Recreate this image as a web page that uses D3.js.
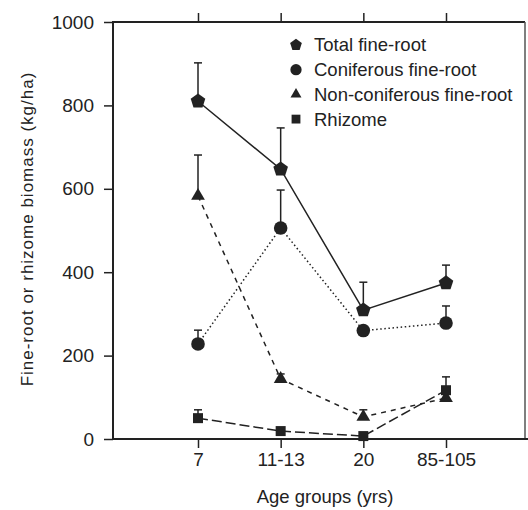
<!DOCTYPE html>
<html>
<head>
<meta charset="utf-8">
<script src="https://cdn.jsdelivr.net/npm/d3@7"></script>
<style>
  body { margin: 0; background: #fff; }
  svg { display: block; font-family: "Liberation Sans", Arial, sans-serif; }
</style>
</head>
<body>
<div id="chart"></div>
<script>
const ageGroups = ["7", "11-13", "20", "85-105"];

// means and upper error (SE); null = no bar visible
const totalFine = [810, 647, 309, 374];
const totalErr = [92, 99, 67, 43];
const coniferous = [228, 506, 260, 278];
const coniferousErr = [33, 91, null, 41];
const nonConiferous = [583, 144, 53, 98];
const nonConiferousErr = [98, 12, 17, null];
const rhizome = [50, 19, 7, 117];
const rhizomeErr = [20, null, null, 32];

const yTicks = [0, 200, 400, 600, 800, 1000];

const pentagon = {
  draw(context, size) {
    const r = Math.sqrt(size / 2.378);
    for (let i = 0; i < 5; i++) {
      const a = -Math.PI / 2 + i * 2 * Math.PI / 5;
      const x = r * Math.cos(a);
      const y = r * Math.sin(a);
      if (i === 0) { context.moveTo(x, y); } else { context.lineTo(x, y); }
    }
    context.closePath();
  }
};

const series = [
  {name: "Total fine-root", values: totalFine, err: totalErr, symbol: pentagon, size: 140, legendSize: 90, dash: null},
  {name: "Coniferous fine-root", values: coniferous, err: coniferousErr, symbol: d3.symbolCircle, size: 145, legendSize: 100, dash: "1.5,2.6"},
  {name: "Non-coniferous fine-root", values: nonConiferous, err: nonConiferousErr, symbol: d3.symbolTriangle, size: 82, legendSize: 52, dash: "5,5"},
  {name: "Rhizome", values: rhizome, err: rhizomeErr, symbol: d3.symbolSquare, size: 100, legendSize: 78, dash: "10,4"}
];

const width = 528;
const height = 510;
const ink = "#222";

const x = d3.scalePoint().domain(ageGroups).range([198, 446]);
const y = d3.scaleLinear().domain([0, 1000]).range([439, 22]);

const svg = d3.select("#chart").append("svg")
  .attr("width", width)
  .attr("height", height);

// frame: right side and top
svg.append("line")
  .attr("x1", 113).attr("x2", 525)
  .attr("y1", y(1000)).attr("y2", y(1000))
  .attr("stroke", ink).attr("stroke-width", 2);
svg.append("line")
  .attr("x1", 525).attr("x2", 525)
  .attr("y1", y(1000)).attr("y2", y(0))
  .attr("stroke", "#555").attr("stroke-width", 1.5);

const yAxis = svg.append("g")
  .attr("transform", "translate(113,0)")
  .call(d3.axisLeft(y).tickValues(yTicks).tickFormat(d3.format("d"))
    .tickSize(9).tickPadding(10).tickSizeOuter(0));

const xAxis = svg.append("g")
  .attr("transform", `translate(0,${y(0)})`)
  .call(d3.axisBottom(x).tickSize(9).tickPadding(5).tickSizeOuter(0));

const topAxis = svg.append("g")
  .attr("transform", `translate(0,${y(1000)})`)
  .call(d3.axisTop(x).tickSize(9).tickSizeOuter(0).tickFormat(""));

[yAxis, xAxis, topAxis].forEach((g) => {
  g.select(".domain").remove();
  g.selectAll("line").attr("stroke", ink).attr("stroke-width", 1.5);
  g.selectAll("text")
    .attr("fill", ink)
    .style("font-size", "19px")
    .style("font-family", "\"Liberation Sans\", Arial, sans-serif");
});

// axis lines
svg.append("line")
  .attr("x1", 113).attr("x2", 113)
  .attr("y1", y(1000) - 1).attr("y2", y(0) + 1)
  .attr("stroke", ink).attr("stroke-width", 2);
svg.append("line")
  .attr("x1", 113).attr("x2", width)
  .attr("y1", y(0)).attr("y2", y(0))
  .attr("stroke", ink).attr("stroke-width", 2);

// axis titles
svg.append("text")
  .attr("transform", "translate(33,229) rotate(-90)")
  .attr("text-anchor", "middle")
  .attr("fill", ink)
  .style("font-size", "17px")
  .style("letter-spacing", "1px")
  .text("Fine-root or rhizome biomass (kg/ha)");

svg.append("text")
  .attr("x", 325)
  .attr("y", 503)
  .attr("text-anchor", "middle")
  .attr("fill", ink)
  .style("font-size", "18.5px")
  .text("Age groups (yrs)");

const line = d3.line()
  .x((d, i) => x(ageGroups[i]))
  .y((d) => y(d));

// connecting lines
svg.append("g")
  .selectAll("path")
  .data(series)
  .join("path")
  .attr("d", (s) => line(s.values))
  .attr("fill", "none")
  .attr("stroke", ink)
  .attr("stroke-width", 1.5)
  .attr("stroke-dasharray", (s) => s.dash);

// upper error bars
const bars = series.flatMap((s) => s.values
  .map((v, i) => ({group: ageGroups[i], v, e: s.err[i]}))
  .filter((d) => d.e !== null));

const errG = svg.append("g")
  .attr("stroke", ink)
  .attr("stroke-width", 1.5);
errG.selectAll(".stem")
  .data(bars)
  .join("line")
  .attr("class", "stem")
  .attr("x1", (d) => x(d.group)).attr("x2", (d) => x(d.group))
  .attr("y1", (d) => y(d.v)).attr("y2", (d) => y(d.v + d.e));
errG.selectAll(".cap")
  .data(bars)
  .join("line")
  .attr("class", "cap")
  .attr("x1", (d) => x(d.group) - 4).attr("x2", (d) => x(d.group) + 4)
  .attr("y1", (d) => y(d.v + d.e)).attr("y2", (d) => y(d.v + d.e));

// markers
series.forEach((s) => {
  svg.append("g")
    .selectAll("path")
    .data(s.values)
    .join("path")
    .attr("transform", (d, i) => `translate(${x(ageGroups[i])},${y(d)})`)
    .attr("d", d3.symbol().type(s.symbol).size(s.size))
    .attr("fill", ink);
});

// legend
const legend = svg.append("g")
  .attr("transform", "translate(296,45)");
const item = legend.selectAll("g")
  .data(series)
  .join("g")
  .attr("transform", (d, i) => `translate(0,${i * 24.7})`);
item.append("path")
  .attr("d", (s) => d3.symbol().type(s.symbol).size(s.legendSize)())
  .attr("fill", ink);
item.append("text")
  .attr("x", 18)
  .attr("dy", "0.35em")
  .attr("fill", ink)
  .style("font-size", "18.5px")
  .text((s) => s.name);
</script>
</body>
</html>
